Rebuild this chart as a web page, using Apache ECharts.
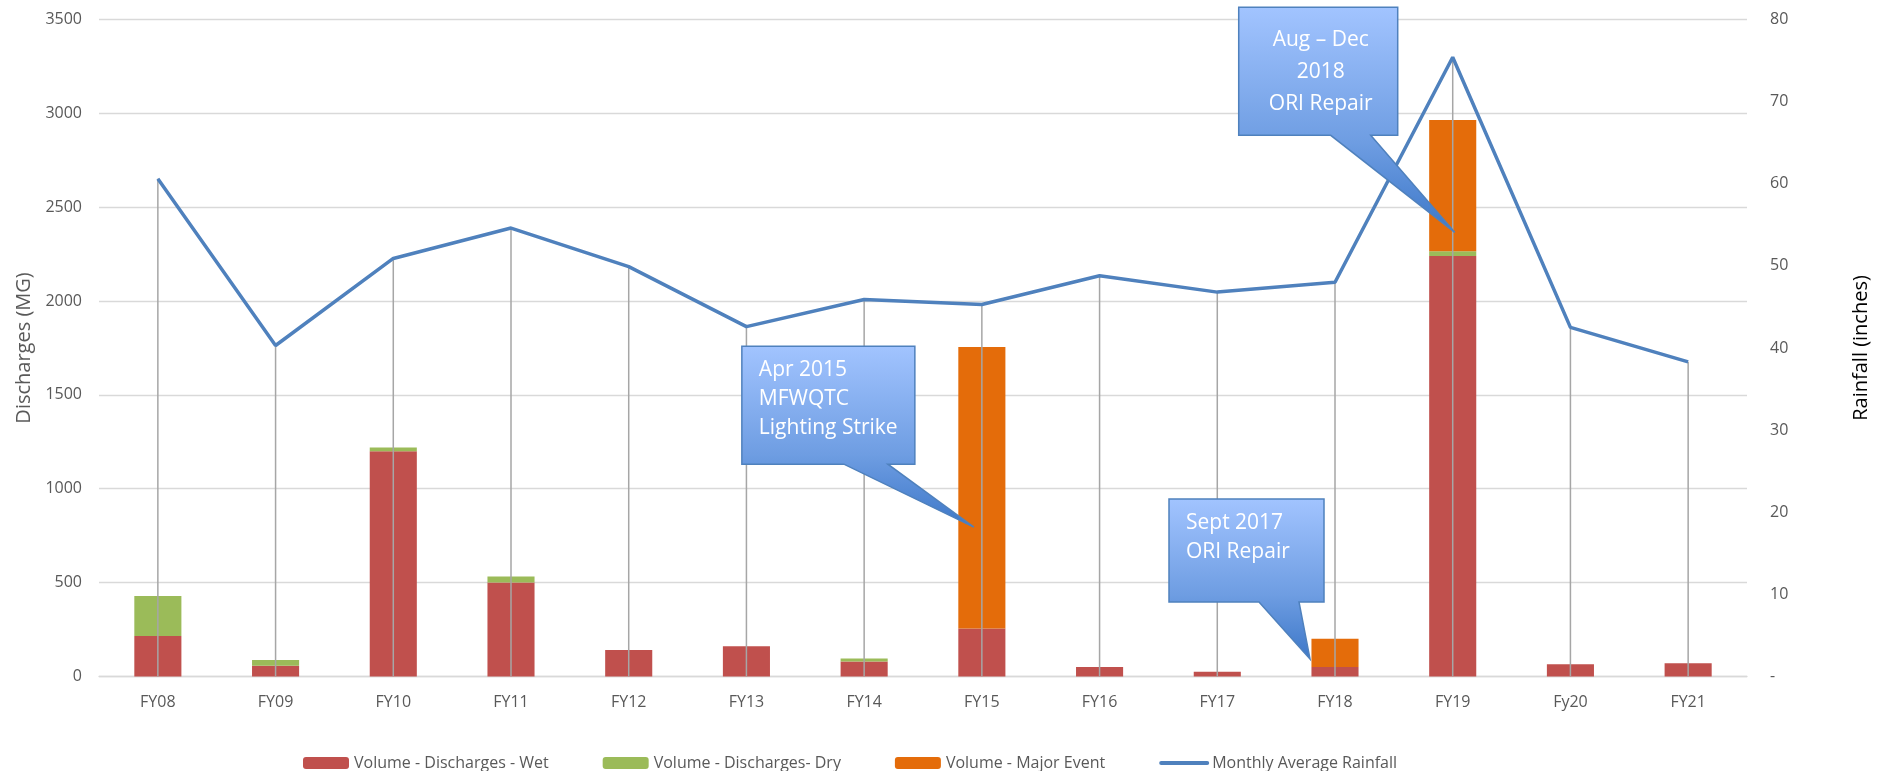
<!DOCTYPE html>
<html>
<head>
<meta charset="utf-8">
<title>Discharges vs Rainfall</title>
<script src="https://cdn.jsdelivr.net/npm/echarts@6/dist/echarts.min.js"></script>
<style>
  html, body { margin: 0; padding: 0; background: #fff; }
  #main { width: 1884px; height: 771px; }
</style>
</head>
<body>
<div id="main"></div>
<script>
// data
var years = ['FY08', 'FY09', 'FY10', 'FY11', 'FY12', 'FY13', 'FY14', 'FY15', 'FY16', 'FY17', 'FY18', 'FY19', 'Fy20', 'FY21'];
var wet = [215, 57, 1200, 500, 140, 160, 80, 255, 50, 25, 50, 2240, 65, 70];
var dry = [213, 30, 20, 32, 0, 0, 15, 0, 0, 0, 0, 25, 0, 0];
var majorEvent = [0, 0, 0, 0, 0, 0, 0, 1500, 0, 0, 150, 700, 0, 0];
var rainfall = [60.6, 40.3, 50.9, 54.6, 49.9, 42.6, 45.9, 45.3, 48.8, 46.8, 48.0, 75.4, 42.5, 38.3];
var leftTicks = { min: 0, max: 3500, interval: 500 };
var rightTicks = { min: 0, max: 80, interval: 10 };

// callouts: text, category, value (MG) where the pointer ends
var noteText = ['Apr 2015\nMFWQTC\nLighting Strike', 'Sept 2017\nORI Repair', 'Aug \u2013 Dec\n2018\nORI Repair'];
var noteYear = ['FY15', 'FY18', 'FY19'];
var noteValue = [795, 93, 2366];

// callout box geometry in pixels, relative to the pointer tip
var noteLayout = [
  { tipDx: -8, l: -232, r: -59, t: -181, b: -63, p1: -130, p2: -86, tx: -215, ty: -157, gap: 29, align: 'left' },
  { tipDx: -25, l: -141, r: 14, t: -160, b: -57, p1: -51, p2: -11, tx: -124, ty: -136, gap: 29, align: 'left' },
  { tipDx: 2, l: -216, r: -57, t: -225, b: -97, p1: -124, p2: -84, tx: -134, ty: -192, gap: 32, align: 'center' }
];

var myChart = echarts.init(document.getElementById('main'));
var font = '"Open Sans", sans-serif';

option = {
  animation: false,
  backgroundColor: '#fff',
  grid: { left: 99, right: 137, top: 19.5, bottom: 94.6 },
  legend: {
    data: [
      'Volume - Discharges - Wet',
      'Volume - Discharges- Dry',
      'Volume - Major Event',
      { name: 'Monthly Average Rainfall', itemStyle: { opacity: 0 }, lineStyle: { width: 4, cap: 'round' } }
    ],
    left: 298,
    top: 750,
    itemWidth: 46,
    itemHeight: 12,
    itemGap: 54,
    selectedMode: false,
    textStyle: { color: '#595959', fontSize: 16, fontFamily: font }
  },
  xAxis: {
    type: 'category',
    data: years,
    axisTick: { show: false },
    axisLine: { lineStyle: { color: '#D9D9D9', width: 1.3 } },
    axisLabel: { color: '#595959', fontSize: 16, fontFamily: font, margin: 18 }
  },
  yAxis: [
    {
      type: 'value',
      min: leftTicks.min,
      max: leftTicks.max,
      interval: leftTicks.interval,
      name: 'Discharges (MG)',
      nameLocation: 'middle',
      nameRotate: 90,
      nameGap: 65,
      nameTextStyle: { color: '#595959', fontSize: 20, fontFamily: font },
      axisLine: { show: false },
      axisTick: { show: false },
      splitLine: { lineStyle: { color: '#D9D9D9', width: 1.3 } },
      axisLabel: {
        color: '#595959', fontSize: 16, fontFamily: font, margin: 17,
        formatter: function (v) { return String(v); }
      }
    },
    {
      type: 'value',
      min: rightTicks.min,
      max: rightTicks.max,
      interval: rightTicks.interval,
      name: 'Rainfall (inches)',
      nameLocation: 'middle',
      nameRotate: 90,
      nameGap: 104,
      nameTextStyle: { color: '#000', fontSize: 20, fontFamily: font },
      axisLine: { show: false },
      axisTick: { show: false },
      splitLine: { show: false },
      axisLabel: {
        color: '#595959', fontSize: 16, fontFamily: font, margin: 23,
        formatter: function (v) { return v === 0 ? '-' : String(v); }
      }
    }
  ],
  series: [
    {
      name: 'Volume - Discharges - Wet',
      type: 'bar',
      stack: 'vol',
      barWidth: '40%',
      itemStyle: { color: '#C0504D' },
      data: wet
    },
    {
      name: 'Volume - Discharges- Dry',
      type: 'bar',
      stack: 'vol',
      itemStyle: { color: '#9BBB59' },
      data: dry
    },
    {
      name: 'Volume - Major Event',
      type: 'bar',
      stack: 'vol',
      itemStyle: { color: '#E46C0A' },
      data: majorEvent
    },
    {
      // drop lines from each rainfall point down to the axis
      name: 'drop',
      type: 'custom',
      yAxisIndex: 1,
      silent: true,
      z: 3,
      data: rainfall.map(function (v, i) { return [i, v]; }),
      renderItem: function (params, api) {
        var top = api.coord([api.value(0), api.value(1)]);
        var bottom = api.coord([api.value(0), 0]);
        return {
          type: 'line',
          shape: { x1: top[0], y1: top[1], x2: bottom[0], y2: bottom[1] },
          style: { stroke: '#A6A6A6', lineWidth: 1.5 }
        };
      }
    },
    {
      name: 'Monthly Average Rainfall',
      type: 'line',
      yAxisIndex: 1,
      symbol: 'none',
      z: 4,
      lineStyle: { color: '#4F81BD', width: 3.5 },
      itemStyle: { color: '#4F81BD' },
      data: rainfall
    },
    {
      name: 'notes',
      type: 'custom',
      silent: true,
      z: 6,
      clip: false,
      data: noteYear.map(function (y, i) { return [years.indexOf(y), noteValue[i]]; }),
      renderItem: function (params, api) {
        var k = params.dataIndex;
        var b = noteLayout[k];
        var p = api.coord([api.value(0), api.value(1)]);
        var x = p[0] + b.tipDx, y = p[1];
        var pts = [
          [x + b.l, y + b.t], [x + b.r, y + b.t], [x + b.r, y + b.b],
          [x + b.p2, y + b.b], [x, y], [x + b.p1, y + b.b], [x + b.l, y + b.b]
        ];
        var children = [{
          type: 'polygon',
          shape: { points: pts },
          style: {
            fill: new echarts.graphic.LinearGradient(0, 0, 0, 1, [
              { offset: 0, color: '#A2C4FF' },
              { offset: 0.6, color: '#6E9DE2' },
              { offset: 1, color: '#3C77C8' }
            ]),
            stroke: '#4F81BD',
            lineWidth: 1.5
          }
        }];
        noteText[k].split('\n').forEach(function (line, j) {
          children.push({
            type: 'text',
            style: {
              x: x + b.tx,
              y: y + b.ty + j * b.gap,
              text: line,
              fill: '#fff',
              font: '21px ' + font,
              align: b.align,
              verticalAlign: 'middle'
            }
          });
        });
        return { type: 'group', children: children };
      }
    }
  ]
};
myChart.setOption(option);
</script>
</body>
</html>
